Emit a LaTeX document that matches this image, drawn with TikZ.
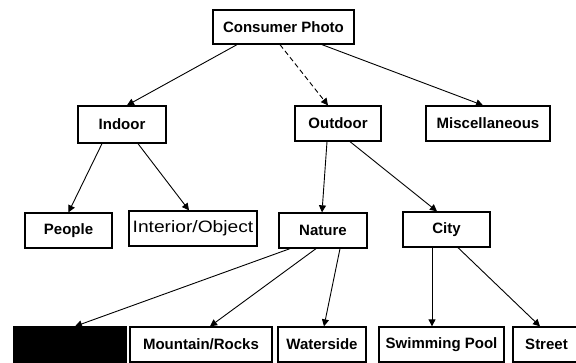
\documentclass[tikz,border=0pt]{standalone}
\usepackage{fontspec}
\setmainfont{Liberation Sans}
\usetikzlibrary{arrows.meta}
\begin{document}
\begin{tikzpicture}[x=1pt,y=-1pt,
  box/.style={draw,line width=1.3pt,rectangle,inner sep=0pt,minimum height=35pt,font=\fontsize{15}{16}\selectfont\bfseries},
  thinbox/.style={box,font=\fontsize{15}{16}\selectfont},
  blackbox/.style={box,fill=black},
  edge/.style={line width=0.9pt,-{Triangle[width=7pt,length=7pt]}}]
\useasboundingbox (0,0) rectangle (576,363);
\node[box,minimum width=141pt,minimum height=34pt] (cp) at (283.5,27) {Consumer Photo};
\node[box,minimum width=88pt,minimum height=37pt] (indoor) at (122,124.5) {Indoor};
\node[box,minimum width=86pt] (outdoor) at (338,123.5) {Outdoor};
\node[box,minimum width=124pt] (misc) at (488,123.5) {Miscellaneous};
\node[box,minimum width=87pt] (people) at (68.5,230.5) {People};
\node[thinbox,minimum width=128pt] (interior) at (193,228.5) {\scalebox{1.28}[1.1]{Interior/Object}};
\node[box,minimum width=88pt] (nature) at (323,230.5) {Nature};
\node[box,minimum width=87pt] (city) at (446.5,229.5) {City};
\node[blackbox,minimum width=112pt,minimum height=38pt] (hidden) at (70,346) {};
\node[box,minimum width=142pt] (mountain) at (201,344.5) {Mountain/Rocks};
\node[box,minimum width=88pt] (waterside) at (322,344.5) {Waterside};
\node[box,minimum width=125pt] (pool) at (441.5,344.5) {Swimming Pool};
\node[box,minimum width=67pt] (street) at (546.5,344.5) {Street};
\draw[edge] ([xshift=-46.5pt]cp.south) -- ([xshift=5pt]indoor.north);
\draw[edge,dash pattern=on 5pt off 3pt] ([xshift=-3.5pt]cp.south) -- ([xshift=-10pt]outdoor.north);
\draw[edge] ([xshift=38.5pt]cp.south) -- ([xshift=-5pt]misc.north);
\draw[edge] ([xshift=-20pt]indoor.south) -- (people.north);
\draw[edge] ([xshift=16pt]indoor.south) -- ([xshift=-4pt]interior.north);
\draw[edge] ([xshift=-11pt]outdoor.south) -- ([xshift=-1pt]nature.north);
\draw[edge] ([xshift=12pt]outdoor.south) -- ([xshift=-9.5pt]city.north);
\draw[edge] ([xshift=-33pt]nature.south) -- ([xshift=5pt]hidden.north);
\draw[edge] ([xshift=-7pt]nature.south) -- ([xshift=9pt]mountain.north);
\draw[edge] ([xshift=17pt]nature.south) -- ([xshift=2pt]waterside.north);
\draw[edge] ([xshift=-14.5pt]city.south) -- ([xshift=-9.5pt]pool.north);
\draw[edge] ([xshift=11.5pt]city.south) -- ([xshift=-6.5pt]street.north);
\end{tikzpicture}
\end{document}
